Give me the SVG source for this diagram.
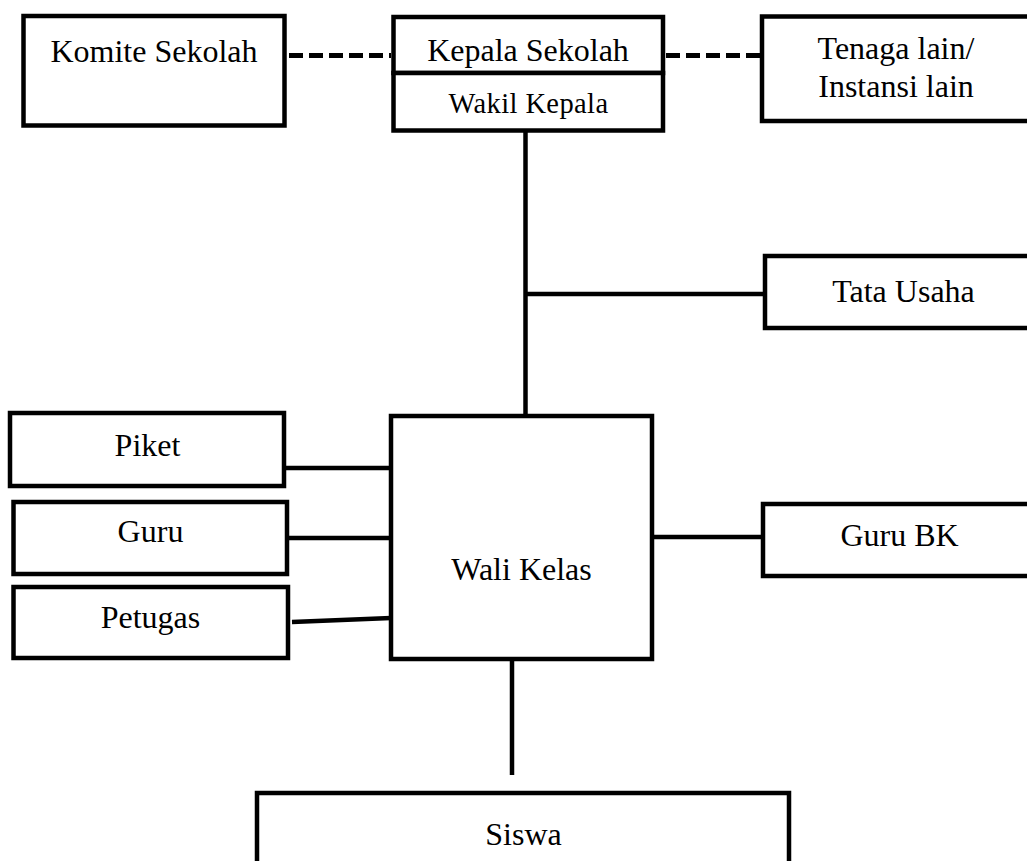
<svg xmlns="http://www.w3.org/2000/svg" width="1027" height="861" viewBox="0 0 1027 861">
<style>
.box{fill:#fff;stroke:#000;stroke-width:4.5}
.t{font-family:"Liberation Serif","Times New Roman",serif;font-size:32px;fill:#000;text-anchor:middle}
.ts{font-size:28.5px;letter-spacing:0.4px}
.ln{stroke:#000;stroke-width:4.5;fill:none}
.dash{stroke:#000;stroke-width:5;fill:none;stroke-dasharray:14 6}
</style>
<rect width="1027" height="861" fill="#fff"/>
<g id="connectors">
<line class="dash" x1="289" y1="55.5" x2="391" y2="55.5"/>
<line class="dash" x1="666" y1="55.5" x2="760" y2="55.5"/>
<line class="ln" x1="525.5" y1="132" x2="525.5" y2="416"/>
<line class="ln" x1="525.5" y1="294" x2="765" y2="294"/>
<line class="ln" x1="286" y1="468" x2="391" y2="468"/>
<line class="ln" x1="289" y1="538" x2="391" y2="538"/>
<line class="ln" x1="292" y1="622" x2="391" y2="618"/>
<line class="ln" x1="652" y1="537" x2="763" y2="537"/>
<line class="ln" x1="512" y1="659" x2="512" y2="775"/>
</g>
<g id="komite">
<rect class="box" x="23.5" y="16" width="261" height="109.5"/>
<text class="t" x="154" y="62">Komite Sekolah</text>
</g>
<g id="kepala">
<rect class="box" x="393.5" y="17" width="269.5" height="56"/>
<text class="t" x="528" y="61">Kepala Sekolah</text>
</g>
<g id="wakil">
<rect class="box" x="393.5" y="73" width="269.5" height="57.5"/>
<text class="t ts" x="528.5" y="113">Wakil Kepala</text>
</g>
<g id="tenaga">
<rect class="box" x="762" y="16.5" width="280" height="104.5"/>
<text class="t" x="896" y="59">Tenaga lain/</text>
<text class="t" x="896" y="97">Instansi lain</text>
</g>
<g id="tatausaha">
<rect class="box" x="765" y="256" width="280" height="72"/>
<text class="t" x="903.5" y="302">Tata Usaha</text>
</g>
<g id="piket">
<rect class="box" x="10" y="413" width="274" height="73"/>
<text class="t" x="147.5" y="456">Piket</text>
</g>
<g id="guru">
<rect class="box" x="13.5" y="502" width="273.5" height="72"/>
<text class="t" x="150.5" y="542">Guru</text>
</g>
<g id="petugas">
<rect class="box" x="13.5" y="587" width="274.5" height="71"/>
<text class="t" x="150.5" y="628">Petugas</text>
</g>
<g id="walikelas">
<rect class="box" x="391" y="416" width="261" height="243"/>
<text class="t" x="521.5" y="580">Wali Kelas</text>
</g>
<g id="gurubk">
<rect class="box" x="763" y="504" width="280" height="72"/>
<text class="t" x="899.5" y="546">Guru BK</text>
</g>
<g id="siswa">
<rect class="box" x="257" y="793" width="532" height="90"/>
<text class="t" x="523.5" y="845">Siswa</text>
</g>
</svg>
